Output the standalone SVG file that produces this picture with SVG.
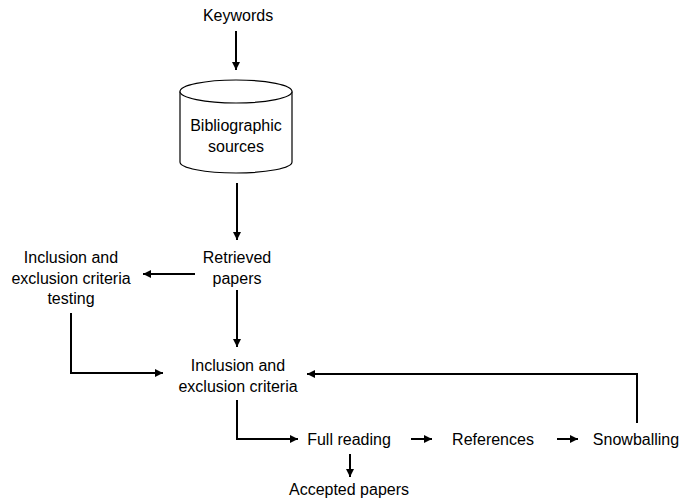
<svg xmlns="http://www.w3.org/2000/svg" width="679" height="500" viewBox="0 0 679 500">
<defs>
<style>
text{font-family:"Liberation Sans",Arial,sans-serif;font-size:16px;fill:#000;text-anchor:middle}
.c{fill:none;stroke:#000;stroke-width:2}
.cyl{fill:#fff;stroke:#000;stroke-width:1.2}
</style>
<marker id="ah" viewBox="0 0 10 10" refX="10" refY="5" markerWidth="4" markerHeight="4" markerUnits="strokeWidth" orient="auto">
<path d="M0,0L10,5L0,10z" fill="#000"/>
</marker>
</defs>
<rect width="679" height="500" fill="#fff"/>
<g id="keywords"><text x="238" y="21">Keywords</text></g>
<g id="sources">
<path class="cyl" d="M180,91.5 V162 A56,11 0 0 0 292,162 V91.5"/>
<ellipse class="cyl" cx="236" cy="91.5" rx="56" ry="11.5"/>
<text x="236" y="131">Bibliographic</text>
<text x="236" y="152">sources</text>
</g>
<g id="retrieved"><text x="237" y="263">Retrieved</text><text x="237" y="284">papers</text></g>
<g id="testing"><text x="71" y="263">Inclusion and</text><text x="71" y="284">exclusion criteria</text><text x="71" y="304">testing</text></g>
<g id="criteria"><text x="238" y="371">Inclusion and</text><text x="238" y="392">exclusion criteria</text></g>
<g id="fullreading"><text x="349" y="445">Full reading</text></g>
<g id="references"><text x="493" y="445">References</text></g>
<g id="snowballing"><text x="636" y="445">Snowballing</text></g>
<g id="accepted"><text x="349" y="495">Accepted papers</text></g>
<g id="connectors">
<path class="c" marker-end="url(#ah)" d="M236,31 V70"/>
<path class="c" marker-end="url(#ah)" d="M237,183 V240"/>
<path class="c" marker-end="url(#ah)" d="M195,274 H143"/>
<path class="c" marker-end="url(#ah)" d="M237,290 V347"/>
<path class="c" marker-end="url(#ah)" d="M71,313 V373 H163"/>
<path class="c" marker-end="url(#ah)" d="M637,423 V374 H307"/>
<path class="c" marker-end="url(#ah)" d="M237,400 V439 H298"/>
<path class="c" marker-end="url(#ah)" d="M411,439 H432"/>
<path class="c" marker-end="url(#ah)" d="M557,439 H578"/>
<path class="c" marker-end="url(#ah)" d="M350,454 V477"/>
</g>
</svg>
